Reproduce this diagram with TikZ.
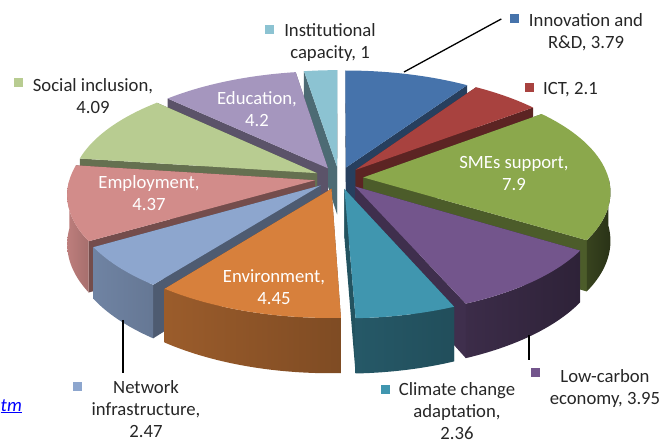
\documentclass[tikz,border=0pt]{standalone}
\usepackage{fontspec}
\setmainfont{Carlito}
\usepackage{xcolor}
\definecolor{innocol}{HTML}{4673AB}
\definecolor{ictcol}{HTML}{A8423F}
\definecolor{smecol}{HTML}{8BA84C}
\definecolor{carboncol}{HTML}{73558C}
\definecolor{climatecol}{HTML}{4096AF}
\definecolor{envcol}{HTML}{D7803C}
\definecolor{netcol}{HTML}{8DA6CE}
\definecolor{employcol}{HTML}{D28C8A}
\definecolor{socialcol}{HTML}{B8CC91}
\definecolor{educol}{HTML}{A596BE}
\definecolor{instcol}{HTML}{8CC3D2}

\tikzset{
  declare function={
    sx(\uu,\vv)=339+245*\uu/(1+0.12*\vv);
    sy(\uu,\vv)=178-111*\vv/(1+0.12*\vv);
    sd(\vv)=48/(1+0.12*\vv);
  },
  keybox/.style={minimum size=9pt, inner sep=0pt, fill=#1},
  pielabel/.style={align=center, inner sep=0pt, text=black!85},
  inlabel/.style={align=center, inner sep=0pt, text=white},
  leader/.style={line width=1.3pt},
}

% one exploded slice: start angle, end angle, colour
\newcommand{\pieslice}[3]{%
  \pgfmathsetmacro\pmid{(#1+#2)/2}
  \pgfmathsetmacro\ou{0.1*sin(\pmid)}
  \pgfmathsetmacro\ov{0.1*cos(\pmid)}
  \foreach \ang in {#1,#2}{
    \fill[#3!55!black] ({sx(\ou,\ov)},{sy(\ou,\ov)})
      -- ({sx(\ou+sin(\ang),\ov+cos(\ang))},{sy(\ou+sin(\ang),\ov+cos(\ang))})
      -- ({sx(\ou+sin(\ang),\ov+cos(\ang))},{sy(\ou+sin(\ang),\ov+cos(\ang))+sd(\ov+cos(\ang))})
      -- ({sx(\ou,\ov)},{sy(\ou,\ov)+sd(\ov)}) -- cycle;
  }
  \pgfmathsetmacro\wlo{max(#1,90)}
  \pgfmathsetmacro\whi{min(#2,270)}
  \ifdim\wlo pt<\whi pt
    \pgfmathtruncatemacro\fl{100*(0.3+0.6*(\whi-90)/180)}
    \pgfmathtruncatemacro\fr{100*(0.3+0.6*(\wlo-90)/180)}
    \shade[left color=#3!\fl!black, right color=#3!\fr!black]
      plot[domain=\wlo:\whi, samples=30, variable=\ang]
        ({sx(\ou+sin(\ang),\ov+cos(\ang))},{sy(\ou+sin(\ang),\ov+cos(\ang))})
      -- plot[domain=\whi:\wlo, samples=30, variable=\ang]
        ({sx(\ou+sin(\ang),\ov+cos(\ang))},{sy(\ou+sin(\ang),\ov+cos(\ang))+sd(\ov+cos(\ang))})
      -- cycle;
  \fi
  \fill[#3] ({sx(\ou,\ov)},{sy(\ou,\ov)})
    -- plot[domain=#1:#2, samples=40, variable=\ang]
      ({sx(\ou+sin(\ang),\ov+cos(\ang))},{sy(\ou+sin(\ang),\ov+cos(\ang))})
    -- cycle;
}

\begin{document}
\begin{tikzpicture}[x=1pt,y=-1pt,font=\fontsize{18.7}{22}\selectfont]
\useasboundingbox (0,0) rectangle (669,443);

% slices, back to front
\foreach \sFrom/\sTo/\sCol in {351.15/360/instcol, 0/33.54/innocol,
    313.99/351.15/educol, 33.54/52.12/ictcol, 277.79/313.99/socialcol,
    52.12/122.04/smecol, 239.12/277.79/employcol, 217.26/239.12/netcol,
    122.04/157.00/carboncol, 177.88/217.26/envcol, 157.00/177.88/climatecol}
  {\pieslice{\sFrom}{\sTo}{\sCol}}

% labels
\node[pielabel, anchor=north] (instLbl) at (330,23) {Institutional\\capacity, 1};
\node[keybox=instcol] (instKey) at (269,30) {};
\node[pielabel, anchor=north] (innoLbl) at (586,13) {Innovation and\\R\&D, 3.79};
\node[keybox=innocol] (innoKey) at (514,19) {};
\node[pielabel, anchor=north west] (ictLbl) at (543,82) {ICT, 2.1};
\node[keybox=ictcol] (ictKey) at (529,88) {};
\node[inlabel, anchor=north] (smeLbl) at (514,156) {SMEs support,\\7.9};
\node[pielabel, anchor=north] (carbonLbl) at (605,369) {Low-carbon\\economy, 3.95};
\node[keybox=carboncol] (carbonKey) at (535,372) {};
\node[pielabel, anchor=north] (climateLbl) at (457,382) {Climate change\\adaptation,\\2.36};
\node[keybox=climatecol] (climateKey) at (385,389) {};
\node[inlabel, anchor=north] (envLbl) at (274,269) {Environment,\\4.45};
\node[pielabel, anchor=north] (netLbl) at (146,380) {Network\\infrastructure,\\2.47};
\node[keybox=netcol] (netKey) at (77,386) {};
\node[inlabel, anchor=north] (employLbl) at (149,175) {Employment,\\4.37};
\node[pielabel, anchor=north] (socialLbl) at (93,78) {Social inclusion,\\4.09};
\node[keybox=socialcol] (socialKey) at (18,83) {};
\node[inlabel, anchor=north] (eduLbl) at (257,91) {Education,\\4.2};
\node[anchor=base east, text=blue, inner sep=0pt] (linkTxt) at (22,411) {\itshape\underline{tm}};

% leader lines
\coordinate (innoPt) at (404,72);
\coordinate (netPt) at (123,320);
\coordinate (carbonPt) at (529,335);
\draw[leader] (innoPt) -- (492,24) -- ([xshift=-8pt]innoKey.west);
\draw[leader] (netPt) -- ([yshift=8pt]netPt |- netKey.north);
\draw[leader] (carbonPt) -- ([yshift=7pt]carbonPt |- carbonKey.north);
\end{tikzpicture}
\end{document}
